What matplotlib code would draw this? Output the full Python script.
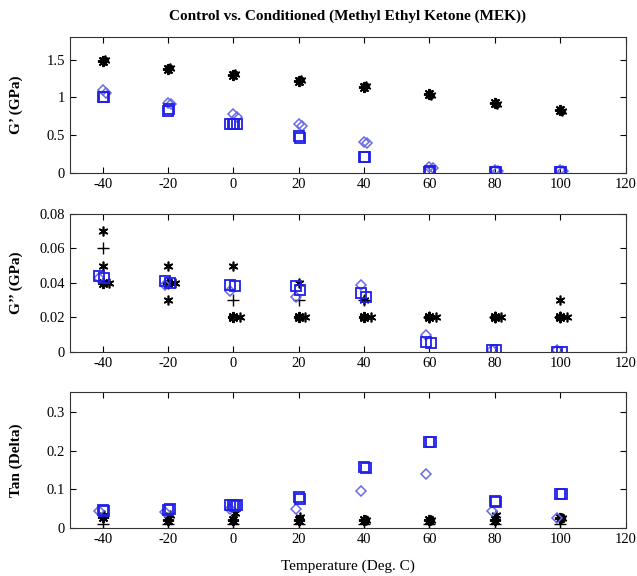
import numpy as np
import matplotlib
matplotlib.use("Agg")
import matplotlib.pyplot as plt

plt.rcParams['font.family'] = ['Liberation Serif', 'DejaVu Serif']
plt.rcParams['axes.unicode_minus'] = False

# temperatures where the samples were tested (deg C)
temps = [-40, -20, 0, 20, 40, 60, 80, 100]

# storage modulus G' (GPa)
gp_ctrl_a = [1.48, 1.37, 1.29, 1.21, 1.13, 1.04, 0.93, 0.83]
gp_ctrl_b = [1.50, 1.39, 1.31, 1.23, 1.15, 1.03, 0.91, 0.82]
gp_sq_a = [1.00, 0.82, 0.65, 0.49, 0.215, 0.01, 0.01, 0.01]
gp_sq_b = [1.01, 0.84, 0.65, 0.46, 0.21, 0.02, 0.005, 0.005]
gp_dia_a = [1.09, 0.93, 0.78, 0.64, 0.41, 0.08, 0.04, 0.04]
gp_dia_b = [1.06, 0.91, 0.74, 0.62, 0.40, 0.06, 0.03, 0.03]

# loss modulus G'' (GPa)
gpp_ctrl_a = [0.07, 0.05, 0.05, 0.04, 0.03, 0.02, 0.02, 0.03]
gpp_ctrl_b = [0.05, 0.03, 0.02, 0.02, 0.02, 0.02, 0.02, 0.02]
gpp_ctrl_c = [0.04, 0.04, 0.02, 0.02, 0.02, 0.02, 0.02, 0.02]
gpp_plus = [0.06, 0.04, 0.03, 0.03, 0.03, 0.02, 0.02, 0.02]
gpp_sq_a = [0.044, 0.041, 0.039, 0.038, 0.034, 0.006, 0.001, 0.0]
gpp_sq_b = [0.043, 0.040, 0.038, 0.036, 0.032, 0.005, 0.001, 0.0]
gpp_dia = [0.043, 0.039, 0.035, 0.032, 0.039, 0.010, 0.001, 0.001]

# tan delta
tan_ctrl_a = [0.030, 0.020, 0.020, 0.020, 0.020, 0.020, 0.020, 0.025]
tan_ctrl_b = [0.035, 0.035, 0.040, 0.030, 0.020, 0.020, 0.035, 0.025]
tan_plus = [0.01, 0.01, 0.01, 0.01, 0.01, 0.01, 0.01, 0.01]
tan_sq_a = [0.046, 0.048, 0.060, 0.080, 0.157, 0.223, 0.070, 0.088]
tan_sq_b = [0.044, 0.050, 0.058, 0.076, 0.155, 0.222, 0.068, 0.088]
tan_dia = [0.044, 0.042, 0.050, 0.050, 0.097, 0.140, 0.043, 0.025]

blue = '#1f1fe8'
lblue = '#6a6ae6'
ast = dict(ls='none', marker=(8, 2, 0), color='black', ms=8, mew=1.4)
ast2 = dict(ls='none', marker=(6, 2, 0), color='black', ms=7, mew=1.2)
plus = dict(ls='none', marker='+', color='black', ms=8, mew=1.0)
sq = dict(ls='none', marker='s', mfc='none', mec=blue, ms=7, mew=1.3)
dia = dict(ls='none', marker='D', mfc='none', mec=lblue, ms=5.5, mew=1.1)

t = np.array(temps)

fig = plt.figure(figsize=(6.37, 5.76), dpi=100)
ax1 = fig.add_axes([0.110, 0.700, 0.872, 0.236])
ax2 = fig.add_axes([0.110, 0.389, 0.872, 0.240])
ax3 = fig.add_axes([0.110, 0.083, 0.872, 0.236])

# G' panel
ax1.plot(t, gp_ctrl_a, **ast)
ax1.plot(t + 0.6, gp_ctrl_b, **ast2)
ax1.plot(t, gp_dia_a, **dia)
ax1.plot(t + 1, gp_dia_b, **dia)
ax1.plot(t, gp_sq_a, **sq)
ax1.plot(t + 0.3, gp_sq_b, **sq)
ax1.plot([-1.2, 1.2], [0.65, 0.65], **sq)

# G'' panel
ax2.plot(t, gpp_ctrl_a, **ast2)
ax2.plot(t, gpp_ctrl_b, **ast2)
ax2.plot(t, gpp_ctrl_c, **ast)
ax2.plot(t + 2, gpp_ctrl_c, **ast2)
ax2.plot(t, gpp_plus, **plus)
ax2.plot(t - 1, gpp_dia, **dia)
ax2.plot(t - 1, gpp_sq_a, **sq)
ax2.plot(t + 0.5, gpp_sq_b, **sq)

# tan delta panel
ax3.plot(t, tan_plus, **plus)
ax3.plot(t, tan_ctrl_a, **ast)
ax3.plot(t + 0.5, tan_ctrl_b, **ast2)
ax3.plot(t - 1, tan_dia, **dia)
ax3.plot(t, tan_sq_a, **sq)
ax3.plot(t + 0.5, tan_sq_b, **sq)
ax3.plot([-1.2, 1.2], [0.06, 0.06], **sq)

for ax in (ax1, ax2, ax3):
    ax.set_xlim(-50, 120)
    ax.set_xticks(np.arange(-40, 121, 20))
    ax.tick_params(direction='in', top=True, right=True, labelsize=10.5,
                   length=4, width=0.8)
    for s in ax.spines.values():
        s.set_linewidth(0.8)
        s.set_color('#333333')

ax1.set_ylim(0, 1.8)
ax1.set_yticks([0, 0.5, 1, 1.5])
ax1.set_yticklabels(['0', '0.5', '1', '1.5'])
ax2.set_ylim(0, 0.08)
ax2.set_yticks([0, 0.02, 0.04, 0.06, 0.08])
ax2.set_yticklabels(['0', '0.02', '0.04', '0.06', '0.08'])
ax3.set_ylim(0, 0.35)
ax3.set_yticks([0, 0.1, 0.2, 0.3])
ax3.set_yticklabels(['0', '0.1', '0.2', '0.3'])

ax1.set_ylabel('G\u2019 (GPa)', fontsize=11, fontweight='bold')
ax2.set_ylabel('G\u2019\u2019 (GPa)', fontsize=11, fontweight='bold')
ax3.set_ylabel('Tan (Delta)', fontsize=11, fontweight='bold')
for ax in (ax1, ax2, ax3):
    ax.yaxis.set_label_coords(-0.085, 0.5)

ax1.set_title('Control vs. Conditioned (Methyl Ethyl Ketone (MEK))',
              fontsize=11, fontweight='bold', pad=12)
ax3.set_xlabel('Temperature (Deg. C)', fontsize=11, labelpad=10)

fig.savefig('out.png', dpi=100)
